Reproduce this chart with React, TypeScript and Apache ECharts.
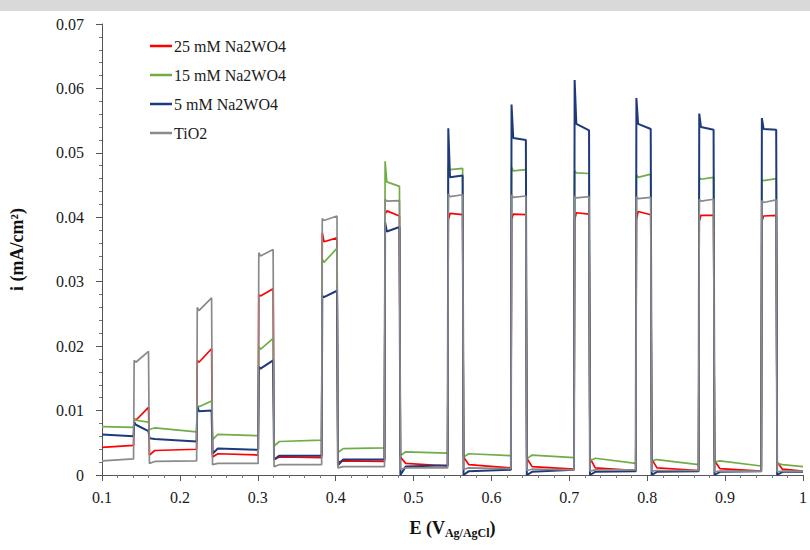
import React, { useEffect, useRef } from "react";
import * as echarts from "echarts";

// Light-on / light-off switching potentials (V vs Ag/AgCl)
const E_ON = [0.1405, 0.2215, 0.3005, 0.382, 0.4627, 0.5438, 0.625, 0.706, 0.7853, 0.866, 0.9464];
const E_OFF = [0.1597, 0.2407, 0.3197, 0.4017, 0.4819, 0.563, 0.6442, 0.7253, 0.8045, 0.8852, 0.9656];
const X_MIN = 0.1;
const X_MAX = 1.0;

const SERIES_NAMES = ["25 mM Na2WO4", "15 mM Na2WO4", "5 mM Na2WO4", "TiO2"];
const SERIES_COLORS = ["#ff0000", "#70ad47", "#1f3a7a", "#8a8a8a"];

// dark segments: [just after light-off, settled start, end before next light-on]  (mA/cm2)
const RED_DARK = [
  [0.0043, 0.0043, 0.0046], [0.0031, 0.0038, 0.004], [0.0028, 0.0033, 0.0031], [0.0024, 0.0028, 0.0027],
  [0.002, 0.0022, 0.0021], [0.0028, 0.0018, 0.0014], [0.0028, 0.0016, 0.0011], [0.0026, 0.0013, 0.0009],
  [0.0026, 0.0011, 0.0007], [0.0025, 0.0011, 0.0007], [0.0022, 0.001, 0.0006], [0.002, 0.0009, 0.0006],
];
// light-on: [initial spike, after spike, end of pulse]
const RED_ON = [
  [0.0088, 0.0085, 0.0105], [0.0178, 0.0175, 0.0196], [0.028, 0.0278, 0.0289], [0.0376, 0.0362, 0.0368],
  [0.0405, 0.041, 0.0402], [0.0396, 0.0406, 0.0404], [0.0396, 0.0405, 0.0404], [0.0396, 0.0407, 0.0405],
  [0.0396, 0.0409, 0.0404], [0.0394, 0.0403, 0.0403], [0.0394, 0.0402, 0.0403],
];

const GREEN_DARK = [
  [0.0075, 0.0075, 0.0074], [0.0071, 0.0073, 0.0067], [0.0055, 0.0063, 0.0061], [0.0045, 0.0052, 0.0054],
  [0.0035, 0.0041, 0.0042], [0.003, 0.0036, 0.0034], [0.0028, 0.0033, 0.003], [0.0025, 0.0031, 0.0027],
  [0.0022, 0.0026, 0.0018], [0.0022, 0.0024, 0.0016], [0.002, 0.0022, 0.0014], [0.0018, 0.0016, 0.0013],
];
const GREEN_ON = [
  [0.0087, 0.0085, 0.0082], [0.0108, 0.0106, 0.0115], [0.02, 0.0195, 0.0212], [0.0335, 0.033, 0.0352],
  [0.0487, 0.0455, 0.0448], [0.0478, 0.0474, 0.0476], [0.0478, 0.0472, 0.0474], [0.0472, 0.0469, 0.0468],
  [0.0466, 0.0462, 0.0467], [0.0462, 0.0459, 0.0462], [0.0458, 0.0457, 0.046],
];

const BLUE_DARK = [
  [0.0063, 0.0063, 0.006], [0.0057, 0.0056, 0.0052], [0.0033, 0.0041, 0.0039], [0.0024, 0.003, 0.003],
  [0.0015, 0.0024, 0.0024], [0.0, 0.0013, 0.0015], [0.0, 0.0006, 0.0008], [0.0, 0.0005, 0.0008],
  [0.0, 0.0005, 0.0006], [0.0, 0.0005, 0.0006], [0.0, 0.0005, 0.0006], [0.0, 0.0005, 0.0005],
];
const BLUE_ON = [
  [0.0082, 0.0078, 0.0068], [0.0106, 0.0099, 0.01], [0.0168, 0.0165, 0.0178], [0.0278, 0.0276, 0.0286],
  [0.0392, 0.0378, 0.0385], [0.0538, 0.0462, 0.0465], [0.0575, 0.0523, 0.052], [0.0613, 0.0545, 0.0535],
  [0.0585, 0.0545, 0.0537], [0.0561, 0.054, 0.0536], [0.0554, 0.0537, 0.0536],
];

const GRAY_DARK = [
  [0.0018, 0.0022, 0.0025], [0.0018, 0.0021, 0.0022], [0.0016, 0.0018, 0.0018], [0.0013, 0.0016, 0.0016],
  [0.0011, 0.0013, 0.0013], [0.0009, 0.0011, 0.0011], [0.0009, 0.0011, 0.001], [0.0007, 0.0009, 0.0008],
  [0.0006, 0.0008, 0.0008], [0.0006, 0.0007, 0.0007], [0.0005, 0.0006, 0.0006], [0.0005, 0.0006, 0.0006],
];
const GRAY_ON = [
  [0.0178, 0.0175, 0.0192], [0.026, 0.0255, 0.0275], [0.0345, 0.034, 0.035], [0.0398, 0.0395, 0.0402],
  [0.0428, 0.0425, 0.0426], [0.0436, 0.0432, 0.0435], [0.0435, 0.0431, 0.0433], [0.0433, 0.043, 0.0432],
  [0.0432, 0.0429, 0.0431], [0.0428, 0.0425, 0.0428], [0.0426, 0.0423, 0.0427],
];

const Y_TICKS = [0, 0.01, 0.02, 0.03, 0.04, 0.05, 0.06, 0.07];

const FONT = "Liberation Serif";

function buildPoints(dark: number[][], on: number[][]) {
  const pts: number[][] = [];
  pts.push([X_MIN, dark[0][1]], [E_ON[0], dark[0][2]]);
  for (let k = 0; k < E_ON.length; k++) {
    const [pk, st, en] = on[k];
    pts.push([E_ON[k] + 0.0008, pk], [E_ON[k] + 0.003, st], [E_OFF[k], en]);
    const [dip, ds, de] = dark[k + 1];
    const end = k + 1 < E_ON.length ? E_ON[k + 1] : X_MAX;
    pts.push([E_OFF[k] + 0.0012, dip], [E_OFF[k] + 0.008, ds], [end, de]);
  }
  return pts;
}

export default function App() {
  const ref = useRef<HTMLDivElement>(null);
  useEffect(() => {
    if (!ref.current) return;
    const chart = echarts.init(ref.current, null, { renderer: "svg" });
    const sets = [
      [RED_DARK, RED_ON],
      [GREEN_DARK, GREEN_ON],
      [BLUE_DARK, BLUE_ON],
      [GRAY_DARK, GRAY_ON],
    ];
    const series = sets.map(([d, o], i) => ({
      name: SERIES_NAMES[i],
      type: "line",
      data: buildPoints(d, o),
      symbol: "none",
      showSymbol: false,
      lineStyle: { color: SERIES_COLORS[i], width: i === 2 ? 2 : 1.7 },
      itemStyle: { color: SERIES_COLORS[i] },
      clip: true,
    }));
    chart.setOption({
      animation: false,
      backgroundColor: "#ffffff",
      textStyle: { fontFamily: FONT },
      grid: { left: 102, right: 4, top: 24, bottom: 75 },
      legend: {
        orient: "vertical",
        left: 150,
        top: 38,
        padding: 0,
        icon: "rect",
        itemWidth: 22,
        itemHeight: 2.5,
        itemGap: 13,
        data: SERIES_NAMES,
        textStyle: { fontFamily: FONT, fontSize: 16, color: "#1a1a1a", lineHeight: 16, padding: [0, 0, 0, -3] },
      },
      graphic: [
        { type: "rect", left: 0, top: 0, shape: { x: 0, y: 0, width: 810, height: 11 }, style: { fill: "#d9d9d9" }, silent: true },
      ],
      xAxis: {
        type: "value",
        min: X_MIN,
        max: X_MAX,
        interval: 0.1,
        name: "{a|E (V}{s|Ag/AgCl}{a|)}",
        nameLocation: "middle",
        nameGap: 42,
        nameTextStyle: {
          rich: {
            a: { fontFamily: FONT, fontSize: 18, fontWeight: "bold", color: "#111", lineHeight: 22 },
            s: { fontFamily: FONT, fontSize: 12, fontWeight: "bold", color: "#111", lineHeight: 22, verticalAlign: "bottom", padding: [6, 0, 0, 0] },
          },
        },
        axisLine: { lineStyle: { color: "#555", width: 1 } },
        axisTick: { show: true, length: 6, lineStyle: { color: "#555" } },
        minorTick: { show: true, splitNumber: 5, length: 3, lineStyle: { color: "#777" } },
        splitLine: { show: false },
        axisLabel: {
          fontFamily: FONT,
          fontSize: 16,
          color: "#1a1a1a",
          margin: 14,
          formatter: (v: number) => String(Math.round(v * 10) / 10),
        },
      },
      yAxis: {
        type: "value",
        min: Y_TICKS[0],
        max: Y_TICKS[Y_TICKS.length - 1],
        interval: 0.01,
        name: "i (mA/cm²)",
        nameLocation: "middle",
        nameGap: 76,
        nameTextStyle: { fontFamily: FONT, fontSize: 18, fontWeight: "bold", color: "#111" },
        axisLine: { show: true, lineStyle: { color: "#555", width: 1 } },
        axisTick: { show: true, length: 6, lineStyle: { color: "#555" } },
        minorTick: { show: true, splitNumber: 5, length: 3, lineStyle: { color: "#777" } },
        splitLine: { show: false },
        axisLabel: {
          fontFamily: FONT,
          fontSize: 16,
          color: "#1a1a1a",
          margin: 18,
          formatter: (v: number) => String(Math.round(v * 100) / 100),
        },
      },
      series,
    });
    return () => chart.dispose();
  }, []);
  return <div ref={ref} style={{ position: "fixed", left: 0, top: 0, width: 810, height: 550 }} />;
}
